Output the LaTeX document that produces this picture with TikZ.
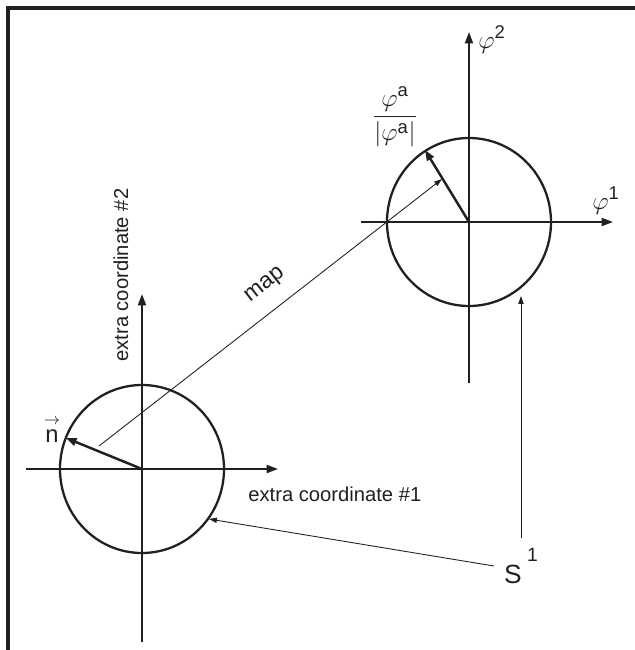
\documentclass[tikz,border=0pt]{standalone}
\usepackage{fontspec}
\usepackage{amsmath}
\setmainfont{Liberation Sans}
\usetikzlibrary{positioning,arrows.meta}
\definecolor{InkBlack}{RGB}{35,31,32}
\tikzset{
  axis/.style={-{Triangle[length=6.5pt,width=4.6pt]},line width=1.1pt,draw=InkBlack},
  unitvec/.style={-{Triangle[length=6pt,width=4.4pt]},line width=1.4pt,draw=InkBlack},
  pointer/.style={-{Triangle[length=4.5pt,width=3pt]},line width=0.5pt,draw=InkBlack},
  ring/.style={line width=1.3pt,draw=InkBlack},
  frameline/.style={line width=2pt,draw=InkBlack},
  lbl/.style={text=InkBlack,font=\fontsize{11.5}{13}\selectfont,inner sep=0pt},
  mathlbl/.style={text=InkBlack,font=\fontsize{15}{17}\selectfont,inner sep=0pt}
}

\begin{document}
\begin{tikzpicture}[x=0.02cm,y=-0.02cm]
  \useasboundingbox (0,0) rectangle (635,650);
  \draw[frameline] (8,650) -- (8,8) -- (635,8);
  % extra-dimension plane
  \coordinate (origA) at (142,469);
  \draw[axis] (origA) +(-116,0) -- +(136,0);
  \draw[axis] (origA) +(0,173) -- +(0,-175);
  \draw[ring] (origA) ellipse [x radius=82, y radius=84];
  \coordinate (nTip) at (66,438);
  \draw[unitvec] (origA) -- (nTip);
  \node[lbl,font=\fontsize{13.5}{15}\selectfont,anchor=base] (nLabel) at (52,442) {$\overset{\rightarrow}{\text{n}}$};
  \node[lbl,anchor=base west] (extraOne) at (248,501) {extra coordinate \#1};
  \node[lbl,anchor=base west,rotate=90] (extraTwo) at (128,362) {extra coordinate \#2};
  % target space of phi
  \coordinate (origB) at (469,222);
  \draw[axis] (origB) +(-108,0) -- +(144,0);
  \draw[axis] (origB) +(0,161) -- +(0,-190);
  \draw[ring] (origB) ellipse [x radius=82, y radius=84];
  \coordinate (phiTip) at (425,150);
  \draw[unitvec] (origB) -- (phiTip);
  \node[mathlbl,anchor=base west] (phiTwo) at (478,48) {$\varphi^{\text{2}}$};
  \node[mathlbl,anchor=base west] (phiOne) at (592,209) {$\varphi^{\text{1}}$};
  \node[mathlbl] (phiUnit) at (395,117) {$\dfrac{\varphi^{\text{a}}}{|\varphi^{\text{a}}|}$};
  % the map
  \coordinate (mapFrom) at (99,446);
  \coordinate (mapTo) at (442,179);
  \draw[pointer] (mapFrom) -- node[lbl,font=\fontsize{13}{15}\selectfont,pos=0.53,sloped,above=8.5pt] (mapLabel) {map} (mapTo);
  % S^1 pointers
  \node[lbl,inner sep=5.7pt] (sOne) at (521,566)
    {\fontsize{15}{17}\selectfont S\hspace{3pt}\raisebox{12.5pt}{\fontsize{11}{13}\selectfont 1}};
  \coordinate (hitA) at (209,519);
  \coordinate (hitB) at (521,296);
  \draw[pointer] (sOne.west) -- (hitA);
  \draw[pointer] (sOne.north) -- (hitB);
\end{tikzpicture}
\end{document}
